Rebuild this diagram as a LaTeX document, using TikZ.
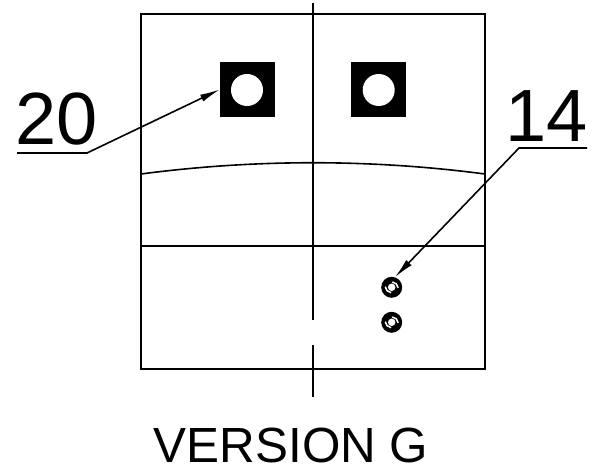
\documentclass[tikz,border=0pt]{standalone}
\usepackage{fontspec}
\setmainfont{Liberation Sans}
\usetikzlibrary{arrows.meta,calc}
\tikzset{
  outline/.style={line width=1.6pt,black},
  leader/.style={line width=1.6pt,black,line join=miter},
  tipped/.style={-{Latex[length=20pt,width=7.5pt]}},
  bigtext/.style={inner sep=0pt,font=\fontsize{74}{74}\selectfont},
  captext/.style={inner sep=0pt,font=\fontsize{49.4}{49.4}\selectfont},
  padd/.style={fill=black,draw=none,minimum size=55pt,inner sep=0pt,shape=rectangle},
  hole/.style={fill=white,draw=none,circle,minimum size=32pt,inner sep=0pt},
  stud/.style={fill=black,draw=none,circle,minimum size=21pt,inner sep=0pt},
  studcore/.style={fill=white,draw=none,circle,minimum size=7.5pt,inner sep=0pt},
  studarc/.style={white,line width=1.5pt}
}
\begin{document}
\begin{tikzpicture}[x=1pt,y=-1pt]
\useasboundingbox (0,0) rectangle (597,470);
\draw[outline] (141,14) rectangle (485,369);
\draw[outline] (141,246) -- (485,246);
\draw[outline] (141,174) .. controls (255,159) and (371,159) .. (485,174);
\draw[outline] (313,3) -- (313,320);
\draw[outline] (313,345) -- (313,397);
\node[padd] (p1) at (247.5,89.5) {};
\node[hole] (h1) at (247,90) {};
\node[padd] (p2) at (378.5,89.5) {};
\node[hole] (h2) at (378.7,90) {};
\foreach \n/\y in {s1/287.3,s2/322.3}{
  \node[stud] (\n) at (391.7,\y) {};
  \node[studcore] (\n c) at (391.7,\y) {};
  \draw[studarc] ($(\n)+(6.5pt*cos 5,-6.5pt*sin 5)$) arc[start angle=5,end angle=85,radius=6.5pt];
  \draw[studarc] ($(\n)+(-6.5pt*cos 5,6.5pt*sin 5)$) arc[start angle=185,end angle=265,radius=6.5pt];
}
\coordinate (a20) at (17,153);
\coordinate (b20) at (87,153);
\coordinate (a14) at (587,148);
\coordinate (b14) at (519,148);
\draw[leader,tipped] (a20) -- (b20) -- (p1.west);
\draw[leader,tipped] (a14) -- (b14) -- (s1.72);
\node[bigtext,anchor=south west] (t20) at (15,145) {20};
\node[bigtext,anchor=south west] (t14) at (505,142) {14};
\node[captext,anchor=base] (captitle) at (291,462) {VERSION G};
\end{tikzpicture}
\end{document}
